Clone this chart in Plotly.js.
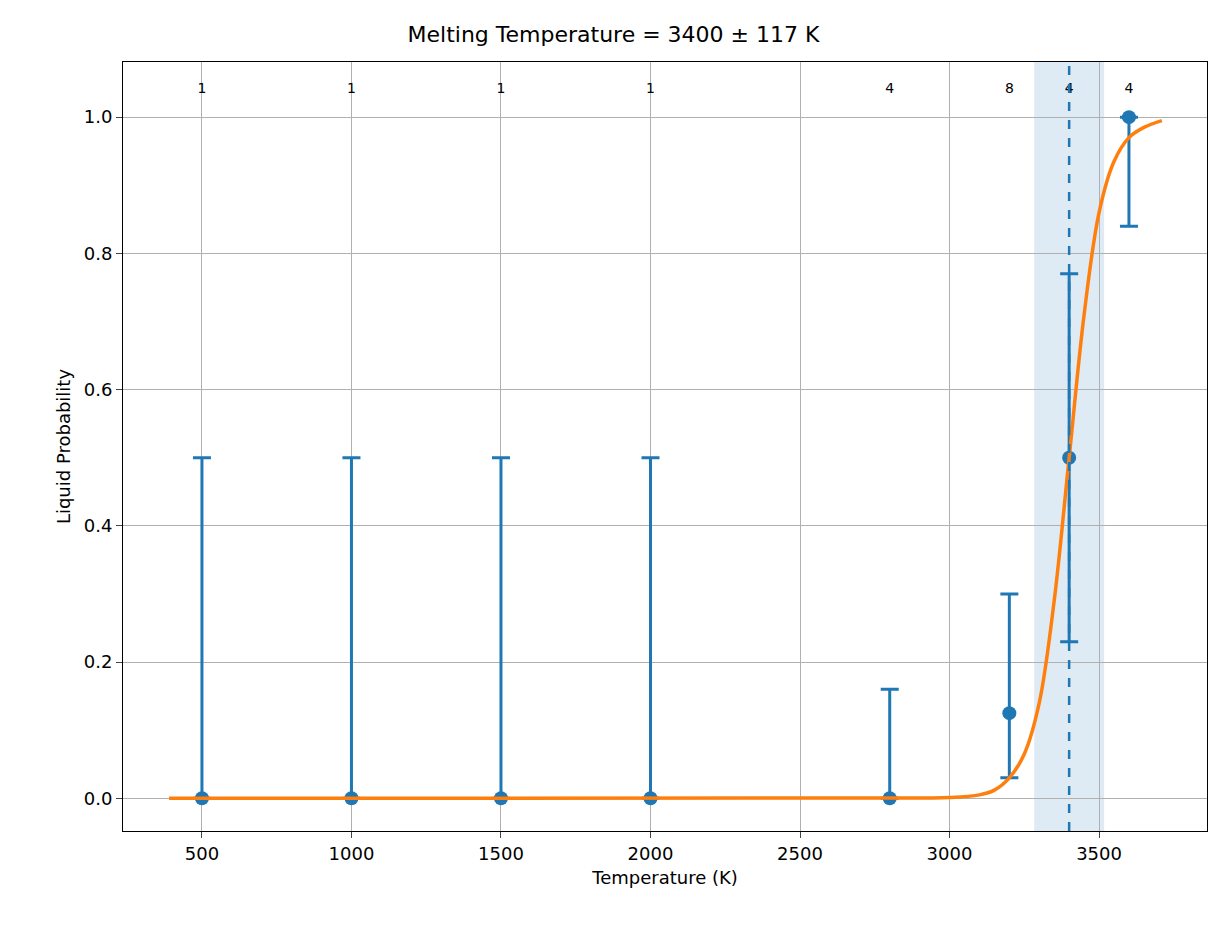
<!DOCTYPE html>
<html>
<head>
<meta charset="utf-8">
<script src="https://cdn.plot.ly/plotly-3.0.1.min.js"></script>
<style>body{margin:0;background:#fff}</style>
</head>
<body>
<div id="plot" style="width:1227px;height:939px"></div>
<script>
const temps = [500, 1000, 1500, 2000, 2800, 3200, 3400, 3600];
const probs = [0, 0, 0, 0, 0, 0.125, 0.5, 1.0];
const errUp = [0.5, 0.5, 0.5, 0.5, 0.16, 0.175, 0.27, 0.0];
const errDown = [0, 0, 0, 0, 0, 0.095, 0.27, 0.16];
const counts = [1, 1, 1, 1, 4, 8, 4, 4];

const fitT = [390, 2900, 3000, 3100, 3150, 3200, 3250, 3300, 3350, 3400, 3450, 3500, 3550, 3600, 3650, 3710];
const fitP = [0, 0.0005, 0.001, 0.005, 0.012, 0.03, 0.065, 0.14, 0.29, 0.5, 0.71, 0.86, 0.935, 0.97, 0.985, 0.995];

const tMelt = 3400;
const tErr = 117;

const blue = '#1f77b4';
const orange = '#ff7f0e';

const points = {
    x: temps, y: probs,
    mode: 'markers',
    type: 'scatter',
    marker: {color: blue, size: 14},
    error_y: {
        type: 'data', symmetric: false,
        array: errUp, arrayminus: errDown,
        color: blue, thickness: 3, width: 9
    }
};

const fit = {
    x: fitT, y: fitP,
    mode: 'lines',
    type: 'scatter',
    line: {color: orange, width: 3.5, shape: 'spline'}
};

const labels = {
    x: temps, y: counts.map(() => 1.04),
    text: counts.map(String),
    mode: 'text',
    type: 'scatter',
    textfont: {size: 14, color: '#000'}
};

const layout = {
    width: 1227, height: 939,
    margin: {l: 123, r: 20, t: 62, b: 108},
    showlegend: false,
    plot_bgcolor: '#fff',
    font: {family: 'DejaVu Sans', size: 18, color: '#000'},
    title: {text: `Melting Temperature = ${tMelt} ± ${tErr} K`, font: {size: 22}, y: 0.963, yanchor: 'middle'},
    xaxis: {
        title: {text: 'Temperature (K)', font: {size: 18}, standoff: 8},
        range: [236, 3861],
        tickvals: [500, 1000, 1500, 2000, 2500, 3000, 3500],
        showgrid: true, gridcolor: '#b0b0b0', gridwidth: 1,
        zeroline: false, showline: true, linecolor: '#000', mirror: true,
        ticks: 'outside', ticklen: 6
    },
    yaxis: {
        title: {text: 'Liquid Probability', font: {size: 18}, standoff: 8},
        range: [-0.048, 1.081],
        tickvals: [0, 0.2, 0.4, 0.6, 0.8, 1.0],
        tickformat: '.1f',
        showgrid: true, gridcolor: '#b0b0b0', gridwidth: 1,
        zeroline: false, showline: true, linecolor: '#000', mirror: true,
        ticks: 'outside', ticklen: 6
    },
    shapes: [
        {type: 'rect', xref: 'x', yref: 'paper', x0: tMelt - tErr, x1: tMelt + tErr, y0: 0, y1: 1,
         fillcolor: blue, opacity: 0.15, line: {width: 0}, layer: 'below'},
        {type: 'line', xref: 'x', yref: 'paper', x0: tMelt, x1: tMelt, y0: 0, y1: 1,
         line: {color: blue, width: 2.5, dash: 'dash'}}
    ]
};

Plotly.newPlot('plot', [points, fit, labels], layout, {displayModeBar: false});
</script>
</body>
</html>
